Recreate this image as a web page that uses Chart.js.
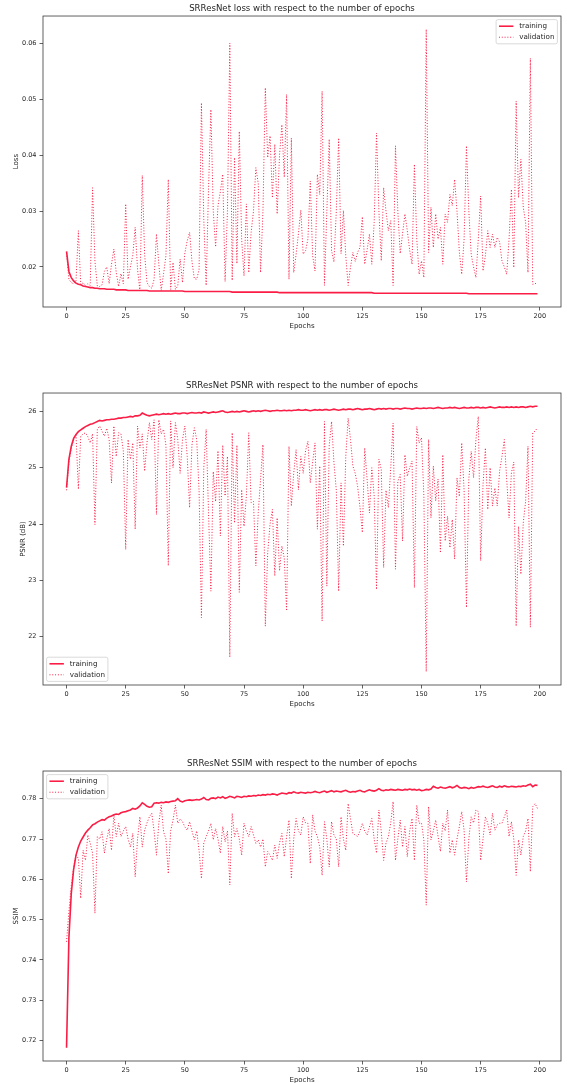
<!DOCTYPE html>
<html lang="en">
<head>
<meta charset="UTF-8">
<title>SRResNet training curves</title>
<script src="https://cdn.jsdelivr.net/npm/chart.js@4"></script>
<style>
  body { margin: 0; background: #fff; overflow: hidden; }
  .plot { position: absolute; left: 0; }
</style>
</head>
<body>
<canvas id="lossChart" class="plot" style="top:0px" width="567" height="331"></canvas>
<canvas id="psnrChart" class="plot" style="top:377px" width="567" height="332"></canvas>
<canvas id="ssimChart" class="plot" style="top:755px" width="567" height="330"></canvas>
<script>
// epochs 0..199
const epochs = Array.from({ length: 200 }, (_, i) => i);
const xTicks = [0, 25, 50, 75, 100, 125, 150, 175, 200];

const lossTrain = [
  0.0228, 0.0192, 0.0181, 0.0175, 0.0171, 0.0169, 0.0168, 0.0166, 0.0165, 0.0164,
  0.0163, 0.0163, 0.0162, 0.0162, 0.0161, 0.0161, 0.0161, 0.0160, 0.0160, 0.0160,
  0.0160, 0.0159, 0.0159, 0.0159, 0.0159, 0.0159, 0.0158, 0.0158, 0.0158, 0.0158,
  0.0158, 0.0158, 0.0158, 0.0158, 0.0158, 0.0157, 0.0157, 0.0157, 0.0157, 0.0157,
  0.0157, 0.0157, 0.0157, 0.0157, 0.0157, 0.0157, 0.0157, 0.0157, 0.0157, 0.0157,
  0.0156, 0.0156, 0.0156, 0.0156, 0.0156, 0.0156, 0.0156, 0.0156, 0.0156, 0.0156,
  0.0156, 0.0156, 0.0156, 0.0156, 0.0156, 0.0156, 0.0156, 0.0156, 0.0156, 0.0156,
  0.0155, 0.0155, 0.0155, 0.0155, 0.0155, 0.0155, 0.0155, 0.0155, 0.0155, 0.0155,
  0.0155, 0.0155, 0.0155, 0.0155, 0.0155, 0.0155, 0.0155, 0.0155, 0.0155, 0.0155,
  0.0154, 0.0154, 0.0154, 0.0154, 0.0154, 0.0154, 0.0154, 0.0154, 0.0154, 0.0154,
  0.0154, 0.0154, 0.0154, 0.0154, 0.0154, 0.0154, 0.0154, 0.0154, 0.0154, 0.0154,
  0.0154, 0.0154, 0.0154, 0.0154, 0.0154, 0.0154, 0.0154, 0.0154, 0.0154, 0.0154,
  0.0154, 0.0154, 0.0154, 0.0154, 0.0154, 0.0154, 0.0154, 0.0154, 0.0154, 0.0154,
  0.0153, 0.0153, 0.0153, 0.0153, 0.0153, 0.0153, 0.0153, 0.0153, 0.0153, 0.0153,
  0.0153, 0.0153, 0.0153, 0.0153, 0.0153, 0.0153, 0.0153, 0.0153, 0.0153, 0.0153,
  0.0153, 0.0153, 0.0153, 0.0153, 0.0153, 0.0153, 0.0153, 0.0153, 0.0153, 0.0153,
  0.0153, 0.0153, 0.0153, 0.0153, 0.0153, 0.0153, 0.0153, 0.0153, 0.0153, 0.0153,
  0.0152, 0.0152, 0.0152, 0.0152, 0.0152, 0.0152, 0.0152, 0.0152, 0.0152, 0.0152,
  0.0152, 0.0152, 0.0152, 0.0152, 0.0152, 0.0152, 0.0152, 0.0152, 0.0152, 0.0152,
  0.0152, 0.0152, 0.0152, 0.0152, 0.0152, 0.0152, 0.0152, 0.0152, 0.0152, 0.0152
];
const lossVal = [
  0.0225, 0.0178, 0.0172, 0.0170, 0.0175, 0.0265, 0.0168, 0.0172, 0.0166, 0.0170,
  0.0167, 0.0342, 0.0210, 0.0166, 0.0165, 0.0168, 0.0192, 0.0200, 0.0170, 0.0205,
  0.0232, 0.0190, 0.0165, 0.0188, 0.0170, 0.0313, 0.0178, 0.0200, 0.0221, 0.0271,
  0.0196, 0.0157, 0.0364, 0.0222, 0.0172, 0.0165, 0.0162, 0.0178, 0.0259, 0.0205,
  0.0158, 0.0188, 0.0220, 0.0357, 0.0160, 0.0208, 0.0160, 0.0166, 0.0214, 0.0172,
  0.0225, 0.0247, 0.0262, 0.0210, 0.0179, 0.0178, 0.0195, 0.0494, 0.0285, 0.0167,
  0.0340, 0.0482, 0.0300, 0.0236, 0.0310, 0.0335, 0.0366, 0.0174, 0.0300, 0.0601,
  0.0176, 0.0396, 0.0206, 0.0443, 0.0250, 0.0184, 0.0313, 0.0190, 0.0262, 0.0300,
  0.0378, 0.0350, 0.0190, 0.0300, 0.0521, 0.0396, 0.0435, 0.0324, 0.0420, 0.0295,
  0.0400, 0.0455, 0.0361, 0.0509, 0.0178, 0.0431, 0.0190, 0.0222, 0.0260, 0.0302,
  0.0223, 0.0229, 0.0250, 0.0354, 0.0220, 0.0193, 0.0366, 0.0330, 0.0515, 0.0167,
  0.0300, 0.0429, 0.0229, 0.0209, 0.0300, 0.0431, 0.0224, 0.0301, 0.0220, 0.0167,
  0.0200, 0.0226, 0.0210, 0.0226, 0.0235, 0.0290, 0.0205, 0.0230, 0.0259, 0.0205,
  0.0280, 0.0440, 0.0300, 0.0211, 0.0342, 0.0300, 0.0265, 0.0283, 0.0167, 0.0417,
  0.0300, 0.0224, 0.0260, 0.0295, 0.0265, 0.0230, 0.0205, 0.0384, 0.0250, 0.0187,
  0.0211, 0.0181, 0.0626, 0.0226, 0.0307, 0.0235, 0.0295, 0.0250, 0.0271, 0.0205,
  0.0295, 0.0280, 0.0330, 0.0310, 0.0357, 0.0300, 0.0226, 0.0187, 0.0250, 0.0417,
  0.0300, 0.0223, 0.0200, 0.0181, 0.0250, 0.0327, 0.0193, 0.0220, 0.0265, 0.0235,
  0.0259, 0.0235, 0.0253, 0.0245, 0.0211, 0.0200, 0.0187, 0.0250, 0.0339, 0.0199,
  0.0497, 0.0324, 0.0393, 0.0307, 0.0280, 0.0190, 0.0574, 0.0169, 0.0170, 0.0172
];
const lossTicks = [0.02, 0.03, 0.04, 0.05, 0.06];
const lossTickLabels = ['0.02', '0.03', '0.04', '0.05', '0.06'];

const psnrTrain = [
  24.65, 25.15, 25.38, 25.52, 25.59, 25.64, 25.67, 25.70, 25.73, 25.75,
  25.77, 25.78, 25.80, 25.82, 25.84, 25.83, 25.84, 25.85, 25.85, 25.86,
  25.86, 25.87, 25.88, 25.88, 25.89, 25.89, 25.90, 25.91, 25.90, 25.92,
  25.92, 25.93, 25.97, 25.95, 25.93, 25.92, 25.93, 25.94, 25.95, 25.94,
  25.95, 25.96, 25.95, 25.96, 25.95, 25.96, 25.97, 25.96, 25.96, 25.97,
  25.97, 25.96, 25.97, 25.98, 25.97, 25.97, 25.98, 25.97, 25.99, 25.98,
  25.97, 25.98, 25.99, 25.98, 25.99, 26.00, 26.01, 25.99, 25.98, 25.99,
  26.00, 25.99, 26.00, 25.99, 26.00, 26.01, 26.00, 25.99, 26.00, 26.01,
  26.00, 26.01, 26.00, 26.01, 26.02, 26.01, 26.00, 26.01, 26.01, 26.02,
  26.01, 26.01, 26.02, 26.01, 26.02, 26.01, 26.02, 26.02, 26.03, 26.02,
  26.02, 26.03, 26.02, 26.01, 26.02, 26.03, 26.02, 26.03, 26.02, 26.03,
  26.03, 26.02, 26.03, 26.04, 26.03, 26.02, 26.03, 26.04, 26.03, 26.04,
  26.04, 26.03, 26.04, 26.05, 26.04, 26.03, 26.04, 26.04, 26.05, 26.04,
  26.03, 26.04, 26.05, 26.04, 26.05, 26.04, 26.05, 26.05, 26.04, 26.05,
  26.05, 26.04, 26.05, 26.06, 26.05, 26.05, 26.04, 26.05, 26.06, 26.05,
  26.05, 26.06, 26.05, 26.06, 26.06, 26.05, 26.06, 26.07, 26.06, 26.05,
  26.06, 26.06, 26.07, 26.06, 26.07, 26.06, 26.05, 26.06, 26.07, 26.06,
  26.06, 26.07, 26.06, 26.07, 26.07, 26.06, 26.07, 26.06, 26.07, 26.08,
  26.07, 26.06, 26.07, 26.08, 26.07, 26.07, 26.08, 26.07, 26.08, 26.07,
  26.08, 26.07, 26.08, 26.08, 26.07, 26.08, 26.09, 26.08, 26.09, 26.09
];
const psnrVal = [
  24.60, 25.10, 25.35, 25.50, 25.58, 24.62, 25.56, 25.60, 25.62, 25.55,
  25.44, 25.60, 23.99, 25.68, 25.74, 25.65, 25.56, 25.70, 25.50, 24.73,
  25.74, 25.20, 25.62, 25.60, 25.30, 23.55, 25.50, 25.15, 25.44, 23.91,
  25.74, 25.35, 25.60, 24.94, 25.45, 25.80, 25.50, 25.85, 24.17, 25.85,
  25.60, 25.68, 25.40, 23.26, 25.83, 25.00, 25.80, 25.50, 24.90, 25.50,
  25.74, 25.20, 24.29, 25.40, 25.71, 25.50, 24.60, 22.34, 25.00, 25.68,
  24.20, 22.81, 24.93, 24.40, 25.30, 23.79, 25.40, 24.50, 25.20, 21.64,
  25.62, 24.02, 25.40, 22.79, 24.61, 23.96, 24.50, 25.62, 24.38, 24.40,
  23.26, 24.20, 24.80, 25.41, 22.19, 23.49, 24.00, 24.26, 23.08, 24.11,
  23.17, 23.61, 23.40, 22.46, 25.38, 24.32, 24.90, 25.32, 24.61, 25.20,
  24.90, 25.30, 25.47, 24.73, 25.10, 25.44, 23.91, 25.03, 22.28, 25.82,
  22.90, 25.40, 25.82, 25.09, 24.60, 22.81, 24.73, 23.61, 25.20, 25.88,
  25.50, 25.03, 24.90, 24.67, 24.30, 23.85, 25.35, 24.80, 24.20, 25.00,
  24.50, 22.84, 25.15, 24.97, 23.23, 24.60, 24.29, 25.00, 25.79, 23.20,
  24.76, 24.88, 23.70, 25.23, 24.85, 25.00, 25.12, 22.87, 25.73, 25.44,
  25.53, 24.50, 21.38, 25.50, 24.11, 25.03, 24.41, 24.80, 23.49, 25.23,
  23.70, 24.14, 23.58, 24.08, 23.38, 24.82, 24.49, 25.44, 24.60, 22.52,
  24.80, 25.29, 24.82, 25.50, 25.91, 23.35, 24.70, 25.35, 24.26, 25.00,
  24.32, 24.64, 24.32, 24.94, 25.20, 25.50, 24.80, 24.11, 24.91, 25.10,
  22.19, 23.96, 23.11, 24.02, 24.40, 25.38, 22.17, 25.62, 25.65, 25.71
];
const psnrTicks = [22, 23, 24, 25, 26];
const psnrTickLabels = ['22', '23', '24', '25', '26'];

const ssimTrain = [
  0.7182, 0.7455, 0.7565, 0.7625, 0.7660, 0.7680, 0.7695, 0.7705, 0.7715, 0.7722,
  0.7728, 0.7735, 0.7738, 0.7742, 0.7745, 0.7748, 0.7747, 0.7752, 0.7755, 0.7757,
  0.7760, 0.7762, 0.7761, 0.7765, 0.7767, 0.7768, 0.7770, 0.7772, 0.7776, 0.7774,
  0.7777, 0.7782, 0.7790, 0.7786, 0.7781, 0.7779, 0.7780, 0.7789, 0.7790, 0.7789,
  0.7791, 0.7790, 0.7792, 0.7791, 0.7793, 0.7794, 0.7795, 0.7800, 0.7794, 0.7792,
  0.7795, 0.7796, 0.7797, 0.7796, 0.7797, 0.7798, 0.7797, 0.7799, 0.7803, 0.7798,
  0.7797, 0.7801, 0.7802, 0.7800, 0.7804, 0.7802, 0.7805, 0.7801, 0.7803, 0.7806,
  0.7804, 0.7802, 0.7806, 0.7805, 0.7803, 0.7806, 0.7805, 0.7807, 0.7806, 0.7808,
  0.7807, 0.7809, 0.7808, 0.7810, 0.7809, 0.7811, 0.7810, 0.7812, 0.7811, 0.7809,
  0.7812, 0.7814, 0.7813, 0.7812, 0.7815, 0.7814, 0.7817, 0.7815, 0.7814, 0.7816,
  0.7815, 0.7814, 0.7816, 0.7815, 0.7816, 0.7818, 0.7816, 0.7815, 0.7817, 0.7819,
  0.7816, 0.7818, 0.7820, 0.7817, 0.7819, 0.7818, 0.7817, 0.7819, 0.7821, 0.7818,
  0.7816, 0.7818, 0.7817, 0.7819, 0.7821, 0.7818, 0.7817, 0.7820, 0.7822, 0.7820,
  0.7819, 0.7821, 0.7825, 0.7821, 0.7820, 0.7822, 0.7821, 0.7823, 0.7822, 0.7821,
  0.7823, 0.7822, 0.7821, 0.7823, 0.7822, 0.7824, 0.7822, 0.7823, 0.7821, 0.7823,
  0.7820, 0.7821, 0.7823, 0.7822, 0.7824, 0.7831, 0.7828, 0.7826, 0.7829, 0.7827,
  0.7826, 0.7828, 0.7830, 0.7827, 0.7829, 0.7833, 0.7828, 0.7826, 0.7828, 0.7827,
  0.7825, 0.7828, 0.7826, 0.7828, 0.7830, 0.7829, 0.7831, 0.7829, 0.7828, 0.7830,
  0.7832, 0.7829, 0.7828, 0.7831, 0.7829, 0.7832, 0.7830, 0.7829, 0.7831, 0.7830,
  0.7829, 0.7831, 0.7830, 0.7832, 0.7831, 0.7834, 0.7836, 0.7830, 0.7834, 0.7833
];
const ssimVal = [
  0.7445, 0.7520, 0.7585, 0.7630, 0.7660, 0.7652, 0.7553, 0.7672, 0.7647, 0.7710,
  0.7690, 0.7665, 0.7516, 0.7706, 0.7700, 0.7718, 0.7665, 0.7700, 0.7726, 0.7672,
  0.7760, 0.7706, 0.7739, 0.7706, 0.7720, 0.7731, 0.7700, 0.7680, 0.7714, 0.7606,
  0.7700, 0.7755, 0.7680, 0.7722, 0.7740, 0.7755, 0.7764, 0.7720, 0.7660, 0.7740,
  0.7784, 0.7718, 0.7700, 0.7614, 0.7720, 0.7747, 0.7784, 0.7739, 0.7750, 0.7743,
  0.7730, 0.7722, 0.7743, 0.7720, 0.7698, 0.7720, 0.7672, 0.7602, 0.7690, 0.7706,
  0.7720, 0.7739, 0.7698, 0.7726, 0.7700, 0.7665, 0.7731, 0.7693, 0.7720, 0.7586,
  0.7764, 0.7706, 0.7726, 0.7700, 0.7660, 0.7739, 0.7720, 0.7706, 0.7731, 0.7710,
  0.7689, 0.7698, 0.7680, 0.7700, 0.7631, 0.7669, 0.7660, 0.7647, 0.7685, 0.7652,
  0.7690, 0.7714, 0.7656, 0.7706, 0.7747, 0.7602, 0.7700, 0.7751, 0.7720, 0.7710,
  0.7755, 0.7740, 0.7739, 0.7639, 0.7760, 0.7720, 0.7706, 0.7680, 0.7610, 0.7743,
  0.7700, 0.7631, 0.7743, 0.7710, 0.7700, 0.7631, 0.7755, 0.7700, 0.7672, 0.7788,
  0.7750, 0.7714, 0.7710, 0.7706, 0.7720, 0.7739, 0.7720, 0.7710, 0.7730, 0.7751,
  0.7700, 0.7665, 0.7772, 0.7718, 0.7647, 0.7690, 0.7706, 0.7740, 0.7793, 0.7647,
  0.7700, 0.7747, 0.7680, 0.7731, 0.7656, 0.7720, 0.7751, 0.7647, 0.7784, 0.7739,
  0.7740, 0.7698, 0.7536, 0.7780, 0.7698, 0.7720, 0.7747, 0.7706, 0.7669, 0.7739,
  0.7720, 0.7772, 0.7665, 0.7698, 0.7660, 0.7700, 0.7731, 0.7768, 0.7722, 0.7594,
  0.7700, 0.7755, 0.7740, 0.7772, 0.7768, 0.7647, 0.7700, 0.7755, 0.7739, 0.7710,
  0.7764, 0.7722, 0.7735, 0.7739, 0.7739, 0.7755, 0.7772, 0.7706, 0.7743, 0.7700,
  0.7610, 0.7698, 0.7660, 0.7706, 0.7720, 0.7751, 0.7619, 0.7780, 0.7788, 0.7776
];
const ssimTicks = [0.72, 0.73, 0.74, 0.75, 0.76, 0.77, 0.78];
const ssimTickLabels = ['0.72', '0.73', '0.74', '0.75', '0.76', '0.77', '0.78'];

const RED = '#fa1e46';
const FONT = '"DejaVu Sans", sans-serif';
const INK = '#262626';

// box around the plot area, like matplotlib spines
const framePlugin = {
  id: 'frame',
  afterDatasetsDraw(chart) {
    const { ctx, chartArea: a } = chart;
    ctx.save();
    ctx.strokeStyle = '#3a3a3a';
    ctx.lineWidth = 0.8;
    ctx.strokeRect(a.left, a.top, a.right - a.left, a.bottom - a.top);
    ctx.restore();
  }
};

// legend drawn inside the axes with matplotlib spacing
const boxLegend = {
  id: 'boxLegend',
  afterDraw(chart, args, opts) {
    const { ctx, chartArea: a } = chart;
    const fs = 7.2;
    const sets = chart.data.datasets;
    ctx.save();
    ctx.font = fs + 'px ' + FONT;
    const textW = Math.max(...sets.map(d => ctx.measureText(d.label).width));
    const pad = 0.4 * fs, hl = 2 * fs, htp = 0.8 * fs, ls = 0.5 * fs, bap = 0.5 * fs, rowH = 1.03 * fs;
    const w = 2 * pad + hl + htp + textW;
    const h = 2 * pad + sets.length * rowH + (sets.length - 1) * ls;
    const x = opts.loc.endsWith('right') ? a.right - bap - w : a.left + bap;
    const y = opts.loc.startsWith('upper') ? a.top + bap : a.bottom - bap - h;

    ctx.beginPath();
    if (ctx.roundRect) ctx.roundRect(x, y, w, h, 0.25 * fs);
    else ctx.rect(x, y, w, h);
    ctx.fillStyle = 'rgba(255,255,255,0.8)';
    ctx.fill();
    ctx.strokeStyle = '#d0d0d0';
    ctx.lineWidth = 0.8;
    ctx.stroke();

    sets.forEach((d, i) => {
      const cy = y + pad + rowH / 2 + i * (rowH + ls);
      ctx.beginPath();
      ctx.setLineDash(d.borderDash || []);
      ctx.strokeStyle = d.borderColor;
      ctx.lineWidth = d.borderWidth;
      ctx.moveTo(x + pad, cy);
      ctx.lineTo(x + pad + hl, cy);
      ctx.stroke();
      ctx.setLineDash([]);
      ctx.fillStyle = INK;
      ctx.textBaseline = 'middle';
      ctx.textAlign = 'left';
      ctx.fillText(d.label, x + pad + hl + htp, cy);
    });
    ctx.restore();
  }
};

function toPoints(values) {
  return values.map((v, i) => ({ x: epochs[i], y: v }));
}

function makeChart(id, cfg) {
  // 5% margins around the data, as matplotlib does
  const all = cfg.train.concat(cfg.val);
  const lo = Math.min(...all), hi = Math.max(...all);
  const m = (hi - lo) * 0.05;
  const xm = (epochs[epochs.length - 1] - epochs[0]) * 0.05;

  const tickGrid = { display: true, drawOnChartArea: false, drawTicks: true, tickLength: 3.5, color: '#3a3a3a', lineWidth: 0.8 };

  return new Chart(document.getElementById(id), {
    type: 'line',
    data: {
      datasets: [
        { label: 'training', data: toPoints(cfg.train), borderColor: RED, borderWidth: 1.6, order: 1 },
        { label: 'validation', data: toPoints(cfg.val), borderColor: RED, borderWidth: 1, borderDash: [1, 1.8], order: 0 }
      ]
    },
    options: {
      responsive: false,
      animation: false,
      devicePixelRatio: 1,
      layout: { padding: { left: 0, right: 6, top: 0, bottom: 0 } },
      elements: { point: { radius: 0 }, line: { tension: 0 } },
      plugins: {
        legend: { display: false },
        tooltip: { enabled: false },
        title: {
          display: true, text: cfg.title, color: INK, fullSize: false,
          font: { family: FONT, size: 8.6, weight: 'normal' },
          padding: { top: 4, bottom: 1.7 }
        },
        boxLegend: { loc: cfg.legendLoc }
      },
      scales: {
        x: {
          type: 'linear',
          min: epochs[0] - xm,
          max: epochs[epochs.length - 1] + xm,
          afterBuildTicks: ax => { ax.ticks = xTicks.map(v => ({ value: v })); },
          afterFit: ax => { ax.height = 24; },
          grid: tickGrid,
          border: { display: false },
          ticks: { color: INK, font: { family: FONT, size: 6.5 }, padding: 2, maxRotation: 0, autoSkip: false, callback: v => String(v) },
          title: { display: true, text: 'Epochs', color: INK, font: { family: FONT, size: 7 }, padding: { top: 0, bottom: 1 } }
        },
        y: {
          min: lo - m,
          max: hi + m,
          afterBuildTicks: ax => { ax.ticks = cfg.ticks.map(v => ({ value: v })); },
          afterFit: ax => { ax.width = 43; },
          grid: tickGrid,
          border: { display: false },
          ticks: { color: INK, font: { family: FONT, size: 6.5 }, padding: 3, autoSkip: false, callback: (v, i) => cfg.tickLabels[i] },
          title: { display: true, text: cfg.yLabel, color: INK, font: { family: FONT, size: 7 }, padding: { top: cfg.yTitlePad, bottom: 0 } }
        }
      }
    },
    plugins: [framePlugin, boxLegend]
  });
}

makeChart('lossChart', {
  title: 'SRResNet loss with respect to the number of epochs',
  yLabel: 'Loss', train: lossTrain, val: lossVal,
  ticks: lossTicks, tickLabels: lossTickLabels,
  legendLoc: 'upper right', yTitlePad: 11.5
});
makeChart('psnrChart', {
  title: 'SRResNet PSNR with respect to the number of epochs',
  yLabel: 'PSNR (dB)', train: psnrTrain, val: psnrVal,
  ticks: psnrTicks, tickLabels: psnrTickLabels,
  legendLoc: 'lower left', yTitlePad: 18.5
});
makeChart('ssimChart', {
  title: 'SRResNet SSIM with respect to the number of epochs',
  yLabel: 'SSIM', train: ssimTrain, val: ssimVal,
  ticks: ssimTicks, tickLabels: ssimTickLabels,
  legendLoc: 'upper left', yTitlePad: 12
});
</script>
</body>
</html>
